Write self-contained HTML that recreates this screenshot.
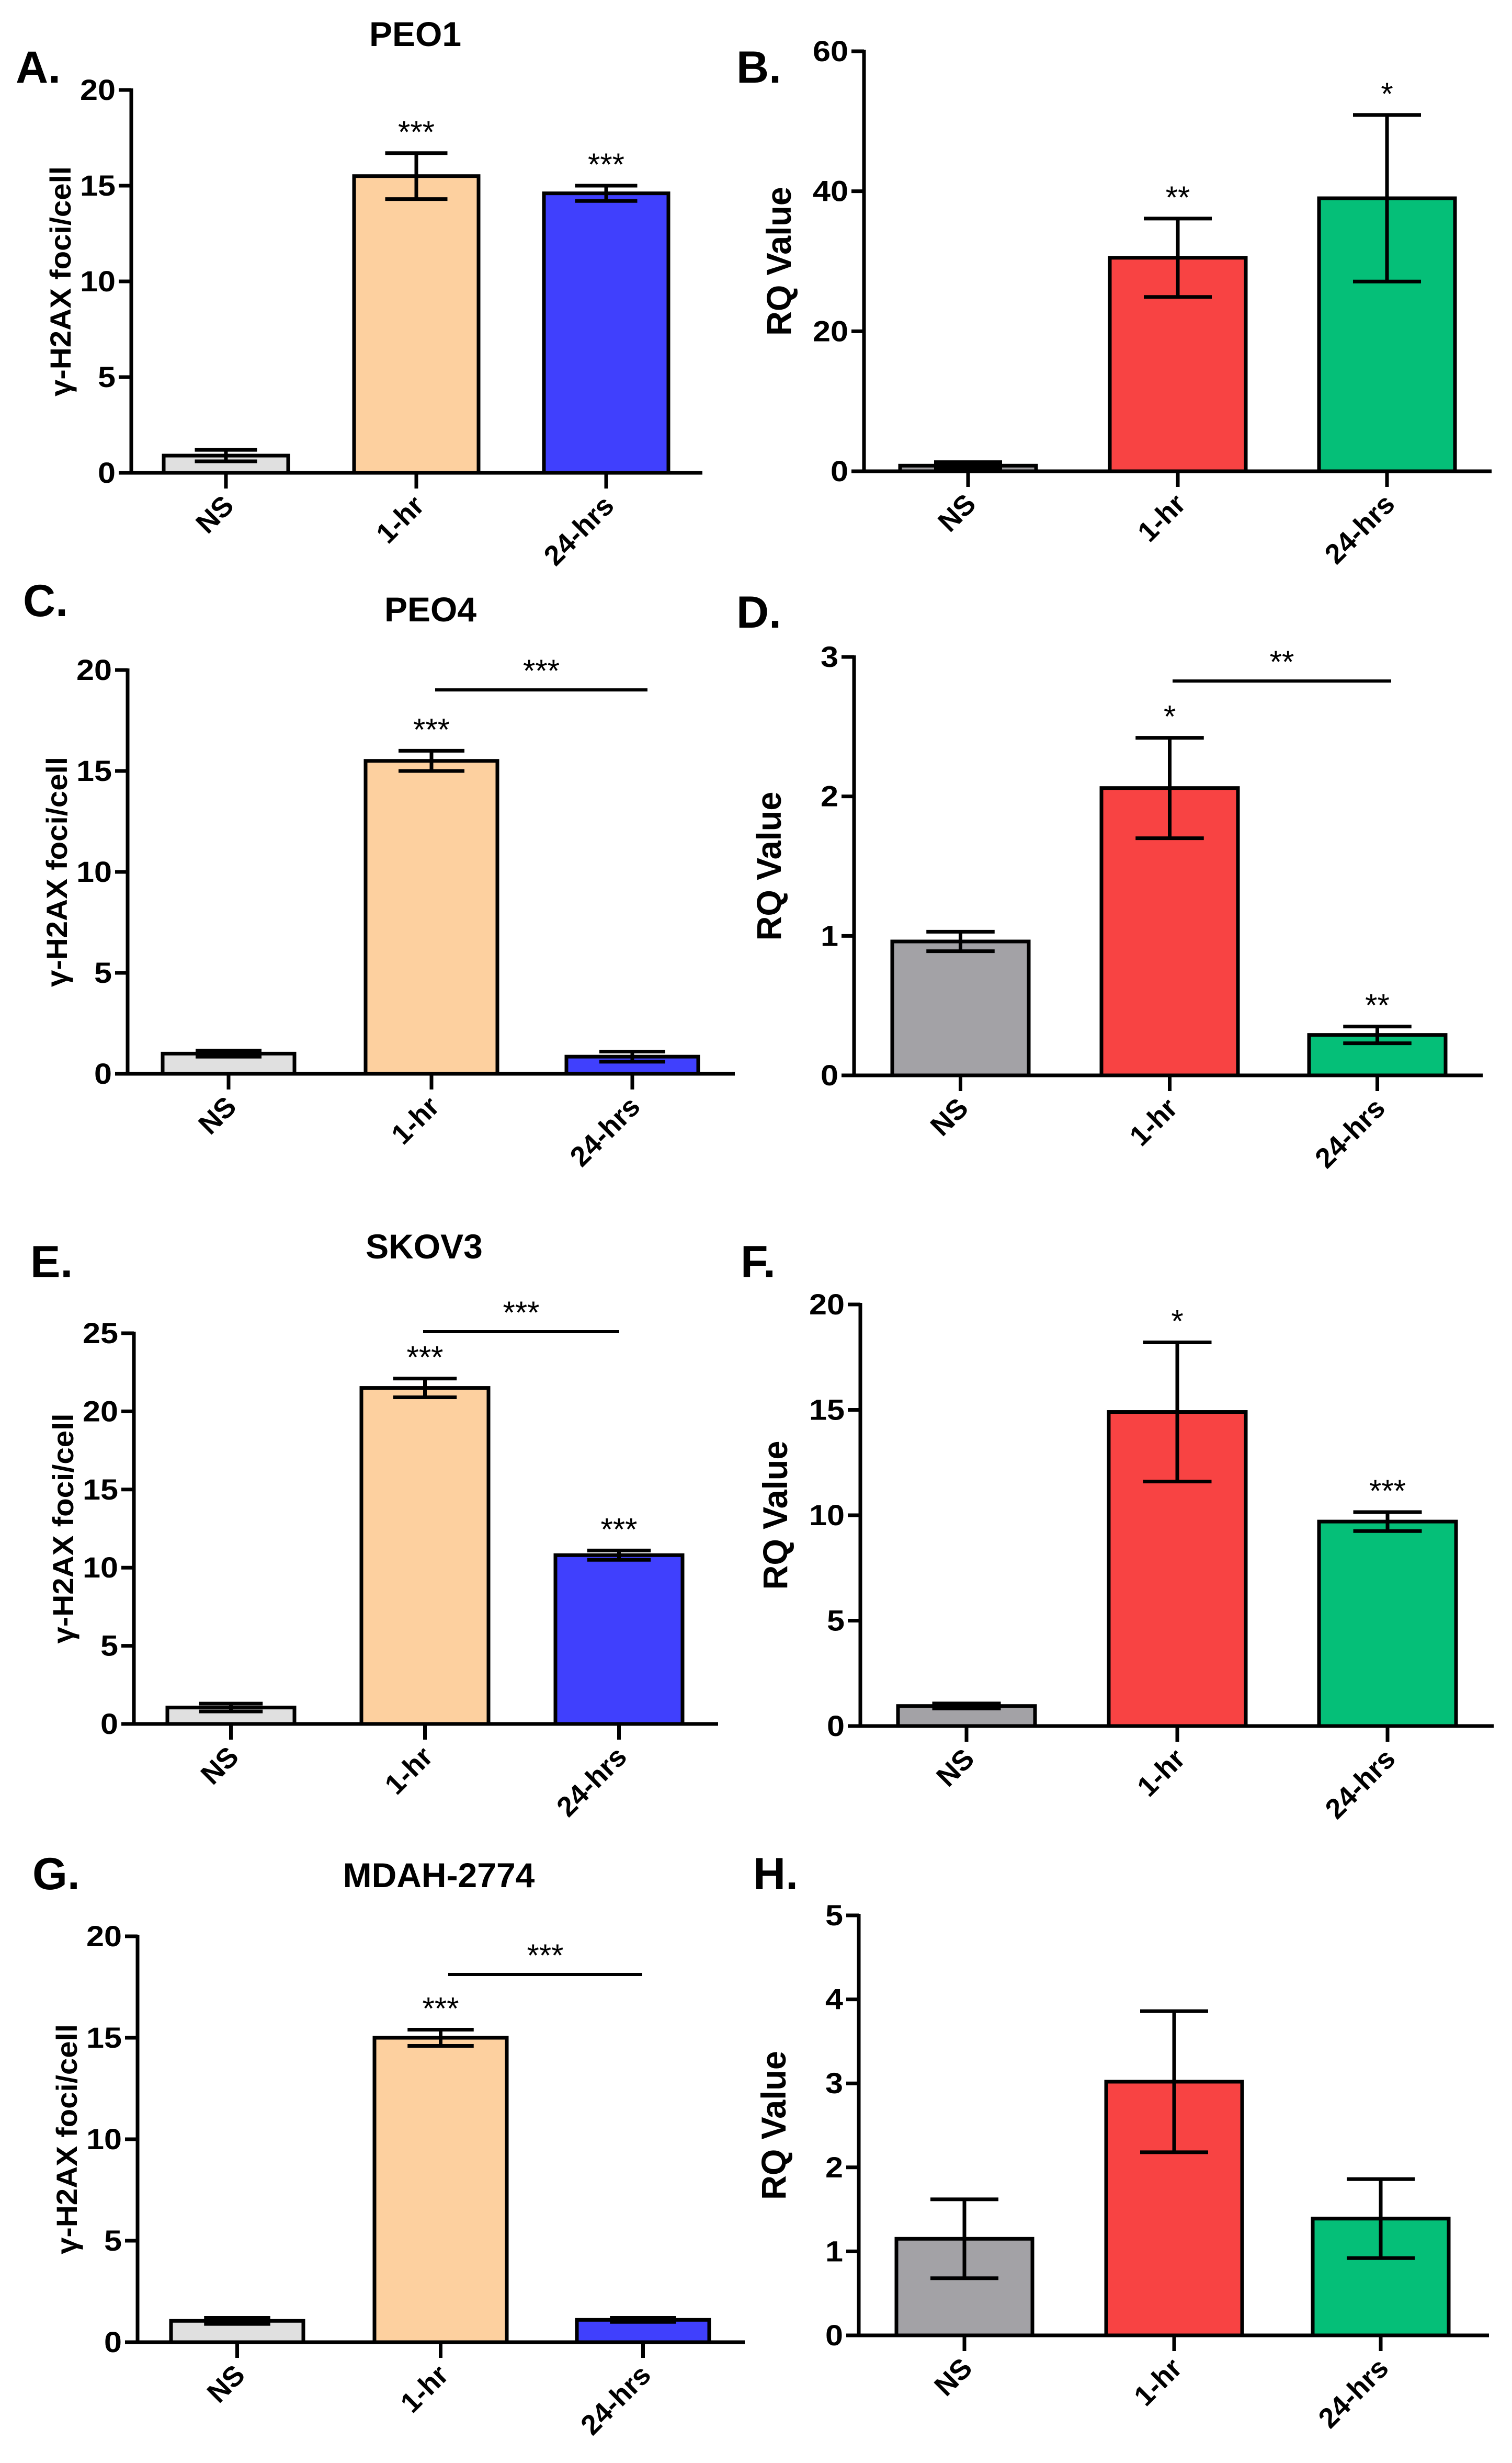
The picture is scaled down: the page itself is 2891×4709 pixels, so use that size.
<!DOCTYPE html>
<html><head><meta charset="utf-8">
<style>
html,body{margin:0;padding:0;background:#fff;}
svg{display:block;font-family:"Liberation Sans",Arial,sans-serif;}
</style></head>
<body>
<svg id="fig" width="2891" height="4709" viewBox="0 0 2891 4709" xmlns="http://www.w3.org/2000/svg">
<rect width="2891" height="4709" fill="#fff"/>
</svg>
<script>
const categories = ["NS", "1-hr", "24-hrs"];

const aValues = [0.9, 15.5, 14.6];
const aErrors = [0.3, 1.2, 0.4];
const aStars = ["", "***", "***"];
const aTicks = [0, 5, 10, 15, 20];

const bValues = [0.8, 30.5, 39.0];
const bErrors = [0.5, 5.6, 11.9];
const bStars = ["", "**", "*"];
const bTicks = [0, 20, 40, 60];

const cValues = [1.0, 15.5, 0.85];
const cErrors = [0.15, 0.5, 0.25];
const cStars = ["", "***", ""];
const cTicks = [0, 5, 10, 15, 20];

const dValues = [0.96, 2.06, 0.29];
const dErrors = [0.07, 0.36, 0.06];
const dStars = ["", "*", "**"];
const dTicks = [0, 1, 2, 3];

const eValues = [1.05, 21.5, 10.8];
const eErrors = [0.25, 0.6, 0.3];
const eStars = ["", "***", "***"];
const eTicks = [0, 5, 10, 15, 20, 25];

const fValues = [0.95, 14.9, 9.7];
const fErrors = [0.12, 3.3, 0.45];
const fStars = ["", "*", "***"];
const fTicks = [0, 5, 10, 15, 20];

const gValues = [1.05, 15.0, 1.1];
const gErrors = [0.15, 0.4, 0.1];
const gStars = ["", "***", ""];
const gTicks = [0, 5, 10, 15, 20];

const hValues = [1.15, 3.02, 1.39];
const hErrors = [0.47, 0.84, 0.47];
const hStars = ["", "", ""];
const hTicks = [0, 1, 2, 3, 4, 5];

const gray1 = "#e0e0e0", peach = "#fdd09f", blue = "#4040fd";
const gray2 = "#a3a2a6", red = "#f84343", green = "#05bf78";

const NS = "http://www.w3.org/2000/svg";
const svg = document.getElementById("fig");

function mk(tag, attrs, parent, text) {
  const el = document.createElementNS(NS, tag);
  for (const k in attrs) el.setAttribute(k, attrs[k]);
  if (text !== undefined) el.textContent = text;
  (parent || svg).appendChild(el);
  return el;
}

function drawPanel(p) {
  const g = mk("g", {});
  
  
  const ymax = p.ticks[p.ticks.length - 1];
  const yScale = v => p.yZero - (v / ymax) * (p.yZero - p.yTop);
  const xCenter = i => p.barX[i] + p.barW / 2;

  const let_ = mk("text", {x: p.letX, y: p.letY, "font-size": 86, "font-weight": "bold", fill: "#000"}, g, p.id.toUpperCase() + ".");
  
  

  if (p.title) {
    const t = mk("text", {x: p.titleX, y: p.titleY, "font-size": 66, "font-weight": "bold", "text-anchor": "middle", fill: "#000"}, g, p.title);
    
    
  }

  p.values.forEach((v, i) => {
    const yb = yScale(v);
    const r = mk("rect", {x: p.barX[i], y: yb, width: p.barW, height: p.yZero - yb, fill: p.colors[i], stroke: "#000", "stroke-width": 7}, g);
    
    
    const e = p.errors[i];
    const yt = yScale(v + e), ybt = yScale(Math.max(v - e, 0));
    const cx = xCenter(i), cw = p.barW * 0.25;
    const eg = mk("g", {stroke: "#000", "stroke-width": 7}, g);
    
    
    mk("line", {x1: cx, x2: cx, y1: yt, y2: ybt}, eg);
    mk("line", {x1: cx - cw, x2: cx + cw, y1: yt, y2: yt}, eg);
    mk("line", {x1: cx - cw, x2: cx + cw, y1: ybt, y2: ybt}, eg);
    if (p.stars[i]) {
      const s = mk("text", {x: cx, y: yt - 20, "font-size": 60, "text-anchor": "middle", fill: "#000"}, g, p.stars[i]);
      
      
    }
  });

  const ax = mk("g", {stroke: "#000", "stroke-width": 7}, g);
  
  
  mk("line", {x1: p.axisX, x2: p.axisX, y1: p.yTop - 3, y2: p.yZero + 3}, ax);
  mk("line", {x1: p.axisX - 24, x2: p.xEnd, y1: p.yZero, y2: p.yZero}, ax);

  p.ticks.forEach(t => {
    const y = yScale(t);
    mk("line", {x1: p.axisX - 24, x2: p.axisX, y1: y, y2: y, stroke: "#000", "stroke-width": 7}, g);
    const s = String(t);
    const tl = mk("text", {x: p.axisX - 30, y: y + 19, "font-size": 56, "font-weight": "bold", "text-anchor": "end", fill: "#000", textLength: 34 * s.length, lengthAdjust: "spacingAndGlyphs"}, g, s);
    
    
  });

  categories.forEach((c, i) => {
    const cx = xCenter(i);
    mk("line", {x1: cx, x2: cx, y1: p.yZero, y2: p.yZero + 30, stroke: "#000", "stroke-width": 7}, g);
    const lx = cx + 18, ly = p.yZero + 66;
    const cl = mk("text", {x: lx, y: ly, "font-size": 54, "font-weight": "bold", "text-anchor": "end", fill: "#000", transform: `rotate(-45 ${lx} ${ly})`}, g, c);
    
    
  });

  const ym = (p.yTop + p.yZero) / 2;
  const yx = p.axisX - p.ytOff;
  const yt = mk("text", {x: yx, y: ym, "font-size": p.ytSize, "font-weight": "bold", "text-anchor": "middle", fill: "#000", textLength: p.ytLen, lengthAdjust: "spacingAndGlyphs", transform: `rotate(-90 ${yx} ${ym})`}, g, p.ytitle);
  
  

  if (p.bracket) {
    const bl = mk("line", {x1: p.bracket.x1, x2: p.bracket.x2, y1: p.bracket.y, y2: p.bracket.y, stroke: "#000", "stroke-width": 6}, g);
    
    
    const bs = mk("text", {x: (p.bracket.x1 + p.bracket.x2) / 2, y: p.bracket.y - 16, "font-size": 60, "text-anchor": "middle", fill: "#000"}, g, p.bracket.label);
    
    
  }
}

const H2AX = "γ-H2AX foci/cell", RQ = "RQ Value";
const leftCol = [gray1, peach, blue], rightCol = [gray2, red, green];
const fociT = {ytitle: H2AX, ytOff: 116, ytSize: 56, ytLen: 440};
const rqT = {ytitle: RQ, ytOff: 140, ytSize: 66, ytLen: 285};

drawPanel(Object.assign({id: "a", title: "PEO1", titleX: 794, titleY: 88, letX: 30, letY: 158,
  values: aValues, errors: aErrors, stars: aStars, ticks: aTicks, colors: leftCol,
  axisX: 251, yTop: 172, yZero: 904, xEnd: 1343, barX: [313, 677, 1040], barW: 238}, fociT));
drawPanel(Object.assign({id: "b", letX: 1408, letY: 158,
  values: bValues, errors: bErrors, stars: bStars, ticks: bTicks, colors: rightCol,
  axisX: 1652, yTop: 98, yZero: 901, xEnd: 2852, barX: [1721, 2122, 2522], barW: 260}, rqT));
drawPanel(Object.assign({id: "c", title: "PEO4", titleX: 823, titleY: 1188, letX: 44, letY: 1178,
  values: cValues, errors: cErrors, stars: cStars, ticks: cTicks, colors: leftCol,
  axisX: 244, yTop: 1281, yZero: 2053, xEnd: 1405, barX: [311, 699, 1083], barW: 252,
  bracket: {x1: 832, x2: 1238, y: 1319, label: "***"}}, fociT));
drawPanel(Object.assign({id: "d", letX: 1408, letY: 1200,
  values: dValues, errors: dErrors, stars: dStars, ticks: dTicks, colors: rightCol,
  axisX: 1633, yTop: 1256, yZero: 2056, xEnd: 2835, barX: [1706, 2106, 2503], barW: 261,
  bracket: {x1: 2242, x2: 2660, y: 1302, label: "**"}}, rqT));
drawPanel(Object.assign({id: "e", title: "SKOV3", titleX: 811, titleY: 2406, letX: 58, letY: 2442,
  values: eValues, errors: eErrors, stars: eStars, ticks: eTicks, colors: leftCol,
  axisX: 256, yTop: 2549, yZero: 3296, xEnd: 1373, barX: [320, 691, 1062], barW: 243,
  bracket: {x1: 809, x2: 1184, y: 2546, label: "***"}}, fociT));
drawPanel(Object.assign({id: "f", letX: 1416, letY: 2442,
  values: fValues, errors: fErrors, stars: fStars, ticks: fTicks, colors: rightCol,
  axisX: 1645, yTop: 2494, yZero: 3300, xEnd: 2856, barX: [1717, 2120, 2522], barW: 262}, rqT));
drawPanel(Object.assign({id: "g", title: "MDAH-2774", titleX: 839, titleY: 3608, letX: 62, letY: 3612,
  values: gValues, errors: gErrors, stars: gStars, ticks: gTicks, colors: leftCol,
  axisX: 263, yTop: 3702, yZero: 4478, xEnd: 1424, barX: [327, 716, 1103], barW: 253,
  bracket: {x1: 857, x2: 1228, y: 3775, label: "***"}}, fociT));
drawPanel(Object.assign({id: "h", letX: 1440, letY: 3612,
  values: hValues, errors: hErrors, stars: hStars, ticks: hTicks, colors: rightCol,
  axisX: 1642, yTop: 3662, yZero: 4465, xEnd: 2847, barX: [1714, 2115, 2510], barW: 260}, rqT));
</script>
</body></html>
